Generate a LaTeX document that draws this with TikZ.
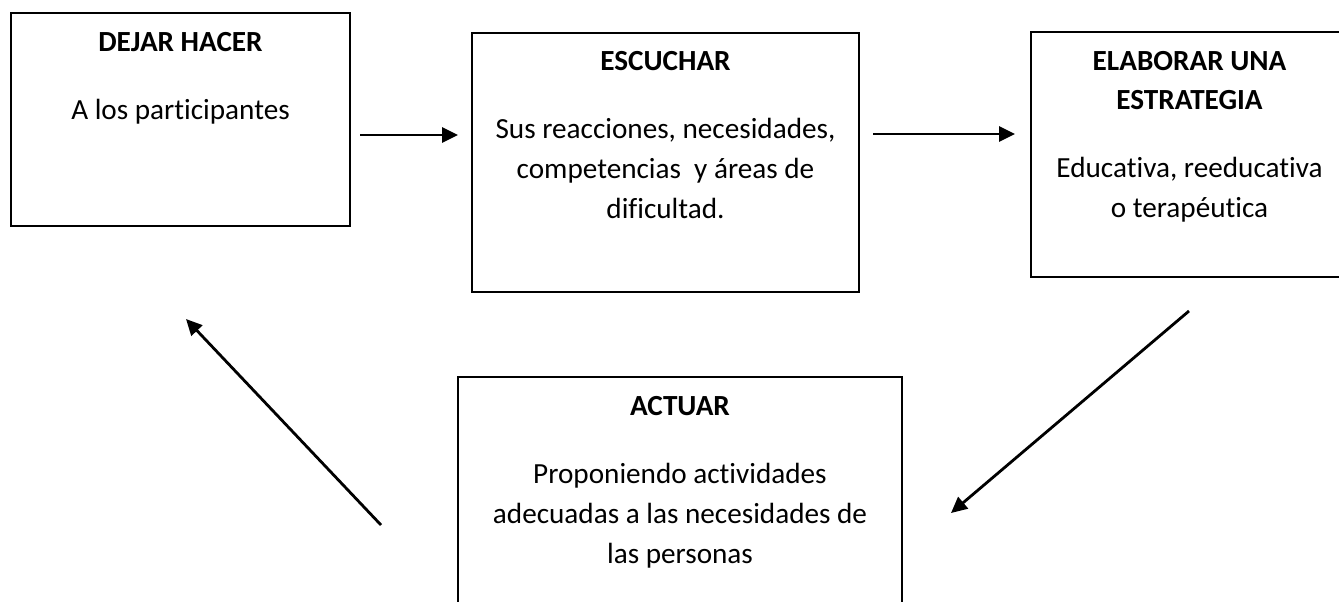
\documentclass[tikz,border=0pt]{standalone}
\usepackage{fontspec}
\setmainfont{Carlito}[Ligatures={NoCommon}]
\usetikzlibrary{arrows.meta,calc}
\begin{document}
\begin{tikzpicture}[x=0.5pt,y=-0.5pt,
  box/.style={draw=black,line width=1pt,rectangle,inner sep=0pt,fill=none},
  txt/.style={anchor=base,inner sep=0pt,font=\fontsize{14.6}{20}\selectfont},
  ttl/.style={txt,font=\fontsize{14.6}{20}\selectfont\bfseries},
  conn/.style={line width=1.4pt,-{Triangle[length=8pt,width=7.5pt]}}]
\useasboundingbox[fill=white] (0,0) rectangle (1339,601);
% boxes
\node[box,minimum width=169.5pt,minimum height=106.5pt] (b1) at (180.5,119.5) {};
\node[box,minimum width=193.5pt,minimum height=129.5pt] (b2) at (665.5,162.5) {};
\node[box,minimum width=158.5pt,minimum height=122.5pt] (b3) at (1189.5,154.5) {};
\node[box,minimum width=222pt,minimum height=121.5pt] (b4) at (680,498.5) {};
% texts box 1
\node[ttl] (t1a) at ($(b1.north)+(0,39)$) {DEJAR HACER};
\node[txt] (t1b) at ($(b1.north)+(0,107)$) {A los participantes};
% texts box 2
\node[ttl] (t2a) at ($(b2.north)+(0,38)$) {ESCUCHAR};
\node[txt] (t2b) at ($(b2.north)+(0,106)$) {Sus reacciones, necesidades,};
\node[txt] (t2c) at ($(b2.north)+(0,146)$) {competencias\ \ y áreas de};
\node[txt] (t2d) at ($(b2.north)+(0,186)$) {dificultad.};
% texts box 3
\node[ttl] (t3a) at ($(b3.north)+(0,39)$) {ELABORAR UNA};
\node[ttl] (t3b) at ($(b3.north)+(0,78)$) {ESTRATEGIA};
\node[txt] (t3c) at ($(b3.north)+(0,146)$) {Educativa, reeducativa};
\node[txt] (t3d) at ($(b3.north)+(0,186)$) {o terapéutica};
% texts box 4
\node[ttl] (t4a) at ($(b4.north)+(0,39)$) {ACTUAR};
\node[txt] (t4b) at ($(b4.north)+(0,107)$) {Proponiendo actividades};
\node[txt] (t4c) at ($(b4.north)+(0,147)$) {adecuadas a las necesidades de};
\node[txt] (t4d) at ($(b4.north)+(0,187)$) {las personas};
% connector end points
\coordinate (a1s) at (360,135);
\coordinate (a1e) at (458,135);
\coordinate (a2s) at (873,134);
\coordinate (a2e) at (1015,134);
\coordinate (a3s) at (1189,311);
\coordinate (a3e) at (951,513);
\coordinate (a4s) at (381,525);
\coordinate (a4e) at (186,319);
% connectors
\draw[conn] (a1s) -- (a1e);
\draw[conn] (a2s) -- (a2e);
\draw[conn] (a3s) -- (a3e);
\draw[conn] (a4s) -- (a4e);
\end{tikzpicture}
\end{document}
